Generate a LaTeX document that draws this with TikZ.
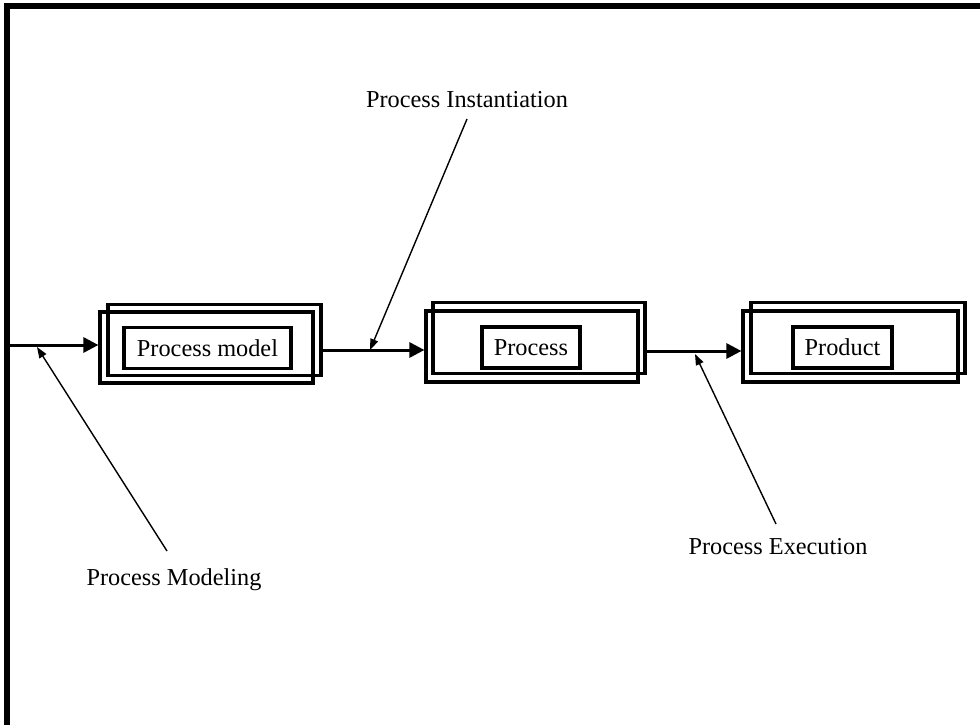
\documentclass[tikz,border=0pt]{standalone}
\usepackage{fontspec}
\setmainfont{Liberation Serif}
\usetikzlibrary{arrows.meta}
\begin{document}
\begin{tikzpicture}[x=1pt,y=-1pt,
  panel/.style={draw, line width=3.2pt, inner sep=0pt, minimum width=213pt, minimum height=71pt},
  tag/.style={draw, line width=3.2pt, inner sep=0pt, minimum height=41pt, font=\fontsize{24.3}{28}\selectfont},
  caption/.style={inner sep=0pt, font=\fontsize{24.3}{28}\selectfont},
  flow/.style={line width=3pt, -{Triangle[length=15pt,width=15pt]}},
  note/.style={line width=1.4pt, -{Triangle[length=11pt,width=8pt]}}]
\useasboundingbox (0,0) rectangle (980,725);

% frame (top and left edges)
\draw[line width=6pt] (6.5,725) -- (6.5,6) -- (980,6);
\coordinate (entry) at (6.5,345);

% stage 1: process model
\node[panel] (b1A) at (214.5,340) {};
\node[panel] (b1B) at (206.5,347.5) {};
\node[tag, minimum width=167pt] (b1in) at (207.5,348) {Process model};

% stage 2: process
\node[panel, minimum width=212pt] (b2A) at (539,338) {};
\node[panel, minimum width=212pt] (b2B) at (532,346.5) {};
\node[tag, minimum width=98pt] (b2in) at (531,347.5) {Process};

% stage 3: product
\node[panel, minimum width=214pt] (b3A) at (858,338) {};
\node[panel, minimum width=215pt] (b3B) at (850.5,346.5) {};
\node[tag, minimum width=99pt] (b3in) at (842.5,347.5) {Product};

% flow between stages
\coordinate (f2) at (321,350);
\coordinate (f3) at (645,351);
\draw[flow] (entry) -- (entry -| b1B.west);
\draw[flow] (b1A.east |- f2) -- (f2 -| b2B.west);
\draw[flow] (b2A.east |- f3) -- (f3 -| b3B.west);

% annotations
\node[caption] (lInst) at (467,100) {Process Instantiation};
\node[caption] (lExec) at (778,547) {Process Execution};
\node[caption] (lMod) at (174,580) {Process Modeling};
\coordinate (tInst) at (467,119);
\coordinate (tExec) at (776,524);
\coordinate (tMod) at (167,551);
\coordinate (hInst) at (370,350);
\coordinate (hExec) at (695,354);
\coordinate (hMod) at (37,347);
\draw[note] (tInst) -- (hInst);
\draw[note] (tExec) -- (hExec);
\draw[note] (tMod) -- (hMod);
\end{tikzpicture}
\end{document}
